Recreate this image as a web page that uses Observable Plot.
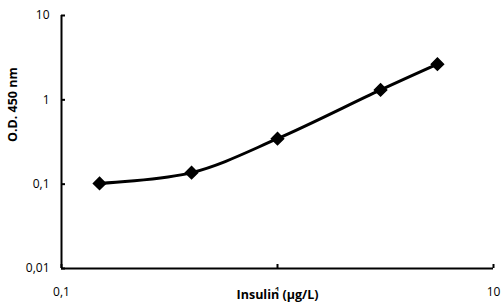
<!DOCTYPE html>
<html><head><meta charset="utf-8">
<script src="https://cdn.jsdelivr.net/npm/d3@7"></script>
<script src="https://cdn.jsdelivr.net/npm/@observablehq/plot@0.6"></script>
<style>body{margin:0;background:#fff}</style>
</head><body><div id="chart"></div>
<script>
const insulin = [0.15, 0.4, 1, 3, 5.5];
const od = [0.102, 0.137, 0.346, 1.31, 2.65];
const xTicks = [0.1, 1, 10];
const yTicks = [0.01, 0.1, 1, 10];
const xTitle = "Insulin (µg/L)";
const yTitle = "O.D. 450 nm";

const data = insulin.map((x, i) => ({x, y: od[i]}));
const fmt = d => String(d).replace(".", ",");
const font = "'Open Sans', sans-serif";

const chart = Plot.plot({
  width: 501,
  height: 307,
  marginLeft: 61,
  marginRight: 8,
  marginTop: 15,
  marginBottom: 39,
  style: {fontFamily: font, fontSize: "12px", color: "#000", background: "#fff"},
  x: {type: "log", domain: [0.1, 10], label: null},
  y: {type: "log", domain: [0.01, 10], label: null},
  marks: [
    Plot.axisY({ticks: yTicks, tickSize: 0, tickPadding: 12, tickFormat: fmt, fontSize: 12, label: null}),
    Plot.axisY({ticks: yTicks, tickSize: -4, tickFormat: () => "", strokeWidth: 2, label: null}),
    Plot.axisX({ticks: xTicks, tickSize: 0, tickPadding: 19, tickFormat: fmt, fontSize: 12, label: null}),
    Plot.axisX({ticks: xTicks, tickSize: -4, tickFormat: () => "", strokeWidth: 2, label: null}),
    Plot.ruleX([0.1], {stroke: "#000", strokeWidth: 2}),
    Plot.ruleY([0.01], {stroke: "#000", strokeWidth: 2}),
    Plot.line(data, {x: "x", y: "y", curve: "catmull-rom", stroke: "#000", strokeWidth: 3}),
    Plot.dot(data, {x: "x", y: "y", symbol: "diamond2", r: 5.5, fill: "#000", stroke: "#000"}),
    Plot.text([xTitle], {frameAnchor: "bottom", dy: 30, fontWeight: "bold", fontSize: 12.5, fill: "#000", stroke: "#fff", strokeWidth: 3}),
    Plot.text([yTitle], {frameAnchor: "left", dx: -49, rotate: -90, fontWeight: "bold", fontSize: 12.5, fill: "#000"})
  ]
});
document.getElementById("chart").append(chart);
</script>
</body></html>
